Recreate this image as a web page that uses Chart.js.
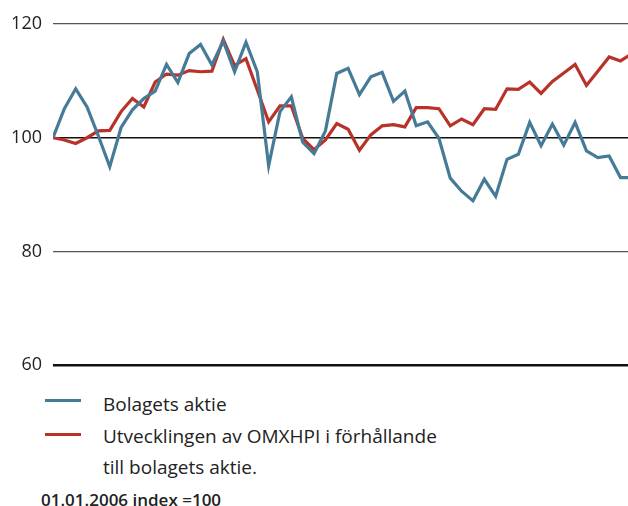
<!DOCTYPE html>
<html>
<head>
<meta charset="utf-8">
<script src="https://cdn.jsdelivr.net/npm/chart.js@4/dist/chart.umd.min.js"></script>
<style>
  body { margin: 0; background: #fff; font-family: "Open Sans", sans-serif; color: #222; }
  #wrap { position: relative; width: 628px; height: 506px; overflow: hidden; }
  #chartAktie { position: absolute; left: 0; top: 0; }
  .leg { position: absolute; left: 45px; width: 36px; height: 3px; }
  .txt { position: absolute; left: 103px; font-size: 19px; line-height: 20px; white-space: nowrap; }
  .note { position: absolute; left: 41px; top: 488px; font-size: 17px; font-weight: 600; white-space: nowrap; }
</style>
</head>
<body>
<div id="wrap">
  <canvas id="chartAktie" width="628" height="387"></canvas>
  <div class="leg" style="top:399px;background:#457b97"></div>
  <div class="txt" style="top:394px">Bolagets aktie</div>
  <div class="leg" style="top:433px;background:#b8322a"></div>
  <div class="txt" style="top:426px">Utvecklingen av OMXHPI i förhållande</div>
  <div class="txt" style="top:457px">till bolagets aktie.</div>
  <div class="note">01.01.2006 index =100</div>
</div>
<script>
// index values, 01.01.2006 = 100
var bolagetsAktie = [
  100, 105.1, 108.6, 105.4, 100.3, 94.9, 101.8, 104.9, 106.9, 108.2,
  112.9, 109.7, 114.8, 116.4, 112.8, 117.0, 111.6, 116.8, 111.6, 95.1,
  104.6, 107.2, 99.2, 97.2, 101.2, 111.3, 112.2, 107.6, 110.7, 111.5,
  106.4, 108.2, 102.1, 102.8, 99.9, 92.9, 90.6, 88.9, 92.7, 89.7,
  96.2, 97.1, 102.7, 98.6, 102.4, 98.7, 102.7, 97.7, 96.5, 96.8,
  93.0, 93.0
];
var omxhpi = [
  100, 99.6, 99.0, 100.0, 101.2, 101.3, 104.6, 106.9, 105.4, 109.8,
  111.2, 111.0, 111.8, 111.6, 111.7, 117.3, 112.7, 113.9, 108.4, 102.8,
  105.6, 105.6, 99.9, 97.9, 99.6, 102.5, 101.5, 97.8, 100.5, 102.1,
  102.3, 101.9, 105.3, 105.3, 105.1, 102.1, 103.3, 102.3, 105.1, 105.0,
  108.6, 108.5, 109.8, 107.8, 109.9, 111.4, 112.9, 109.2, 111.7, 114.2,
  113.5, 114.8
];
var yTicks = [60, 80, 100, 120];

function toPoints(values) {
  return values.map(function (v, i) { return { x: i, y: v }; });
}

var ctx = document.getElementById('chartAktie').getContext('2d');

new Chart(ctx, {
  type: 'line',
  data: {
    datasets: [
      {
        label: 'Bolagets aktie',
        data: toPoints(bolagetsAktie),
        borderColor: '#457b97',
        borderWidth: 3.2,
        pointRadius: 0,
        tension: 0,
      },
      {
        label: 'Utvecklingen av OMXHPI i förhållande till bolagets aktie.',
        data: toPoints(omxhpi),
        borderColor: '#b8322a',
        borderWidth: 3.2,
        pointRadius: 0,
        tension: 0,
      },
    ],
  },
  options: {
    responsive: false,
    animation: false,
    layout: { padding: { top: 24, bottom: 9, left: 0, right: 0 } },
    plugins: { legend: { display: false }, tooltip: { enabled: false } },
    scales: {
      x: {
        type: 'linear',
        min: 0,
        max: 50.66, // last month runs off the right edge
        display: false,
      },
      y: {
        min: yTicks[0],
        max: yTicks[yTicks.length - 1],
        afterFit: function (scale) { scale.width = 53; },
        afterBuildTicks: function (scale) {
          scale.ticks = yTicks.map(function (v) { return { value: v }; });
        },
        border: { display: false },
        grid: {
          drawTicks: false,
          color: function (c) {
            return c.tick && (c.tick.value === 120 || c.tick.value === 80) ? '#555' : '#111';
          },
          lineWidth: function (c) {
            if (!c.tick) return 1;
            if (c.tick.value === 60) return 2.5;
            if (c.tick.value === 100) return 1.5;
            return 1.2;
          },
        },
        ticks: {
          padding: 11,
          color: '#222',
          font: { family: 'Open Sans', size: 18 },
        },
      },
    },
  },
});
</script>
</body>
</html>
